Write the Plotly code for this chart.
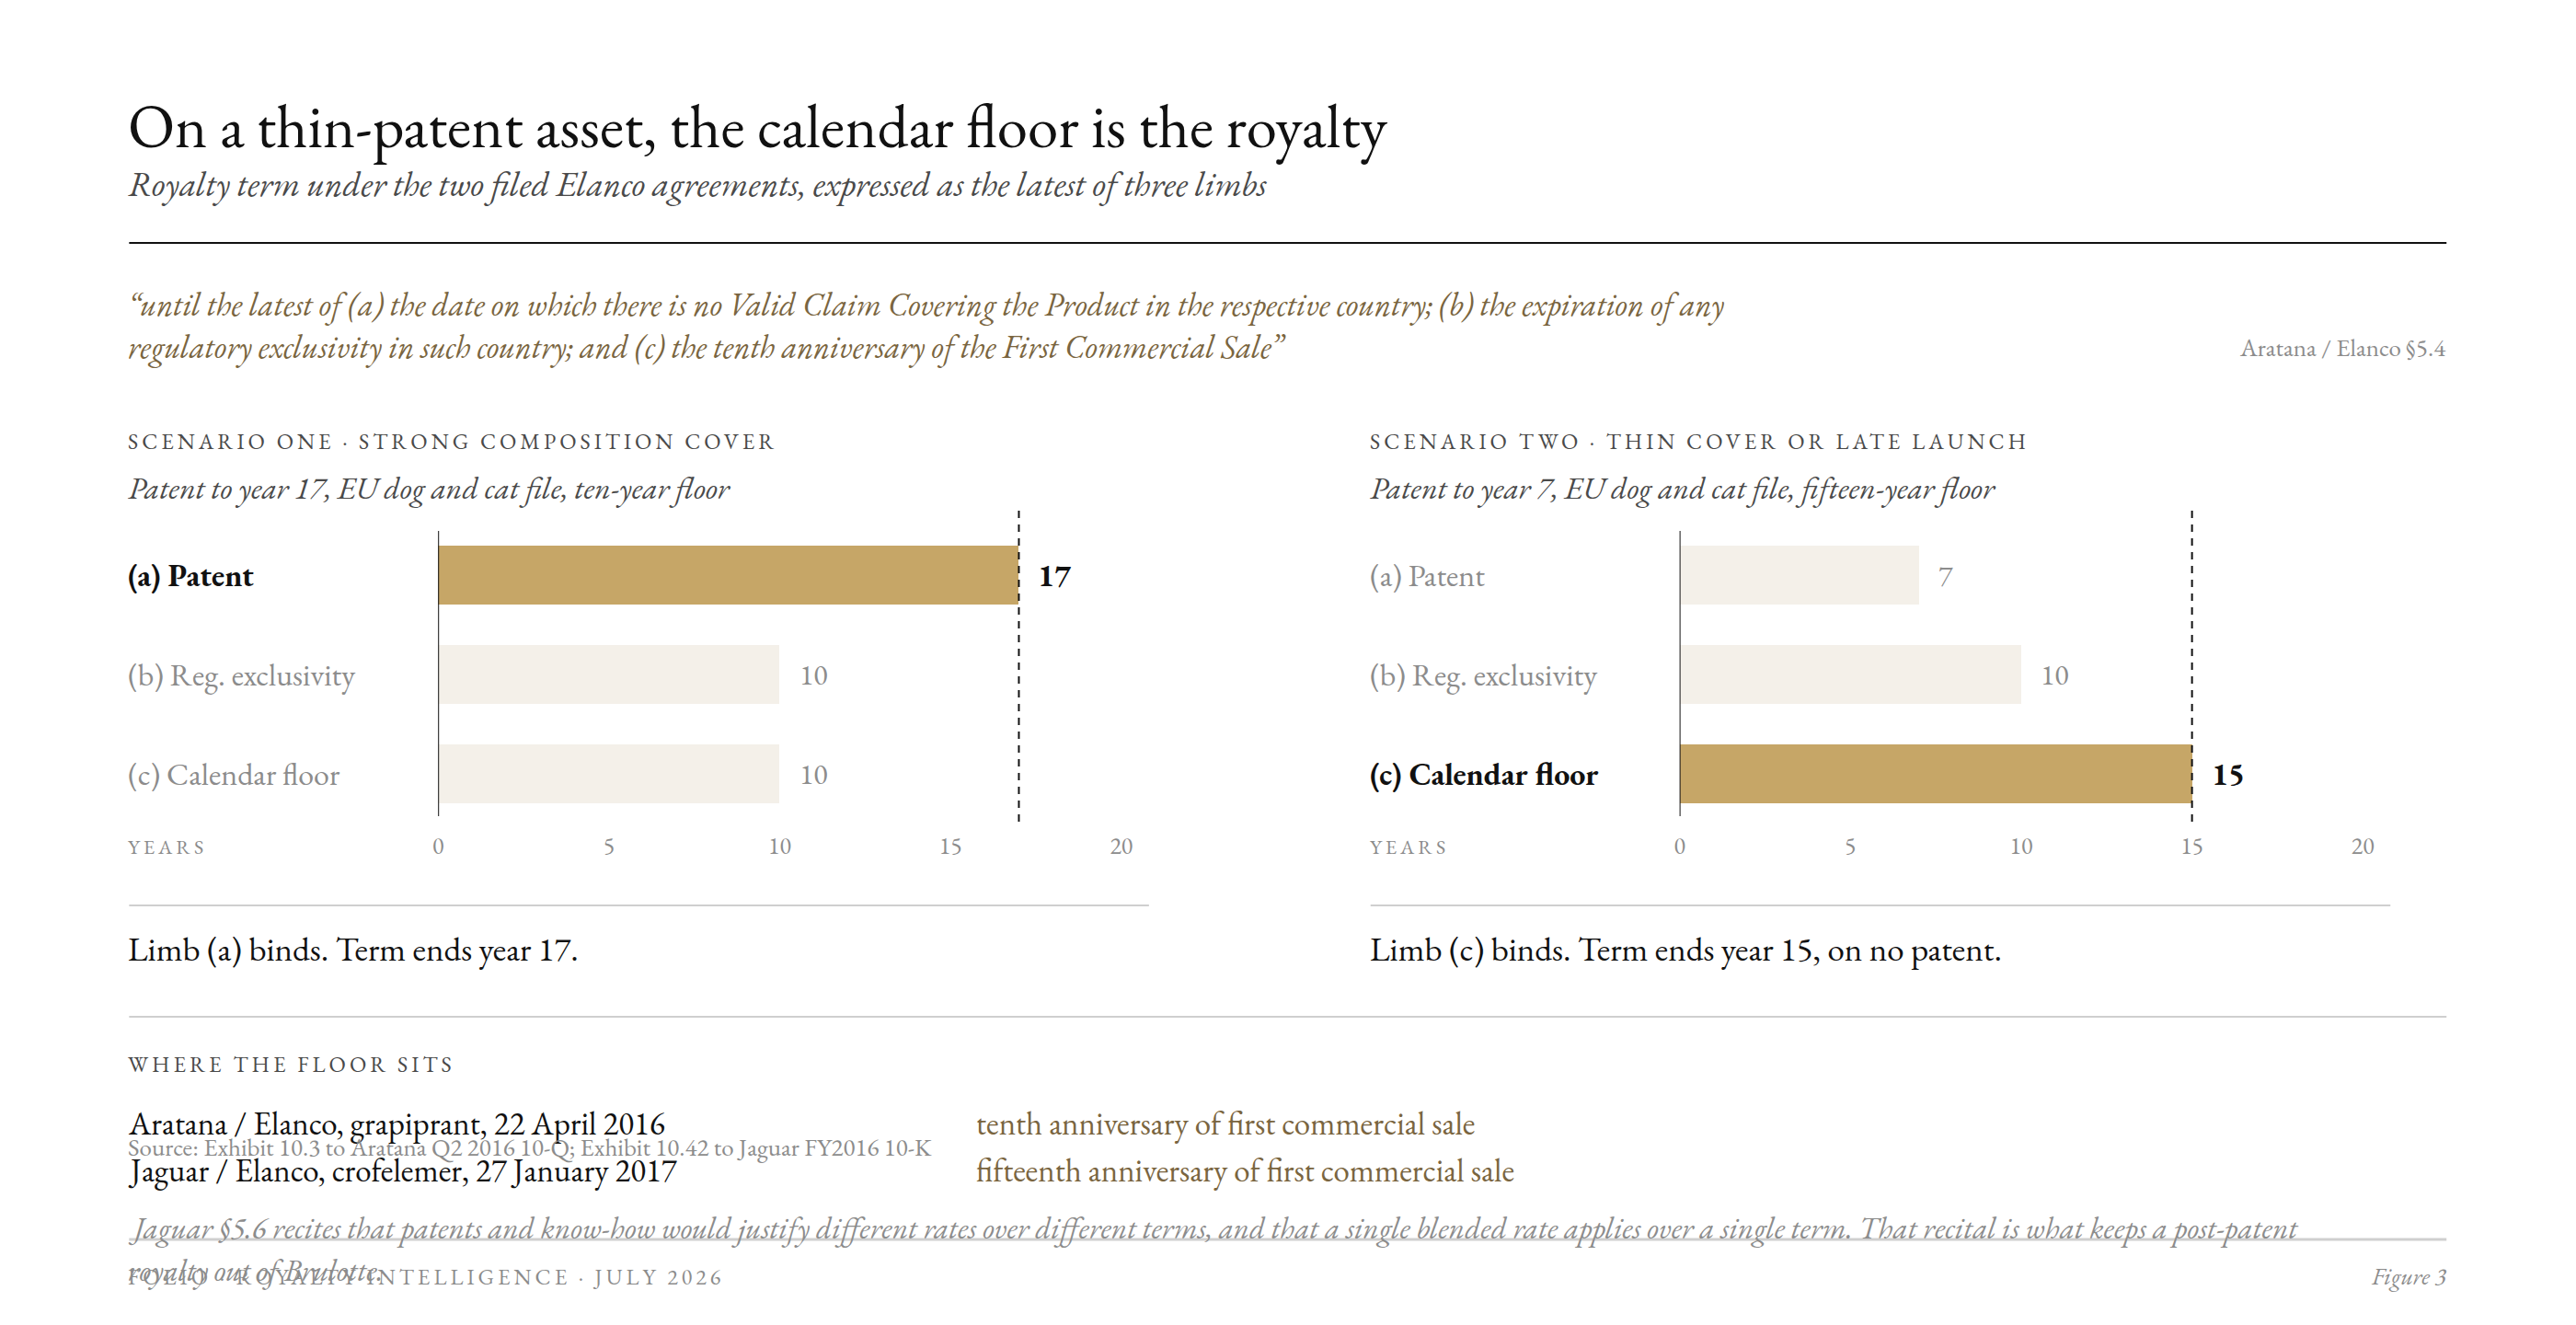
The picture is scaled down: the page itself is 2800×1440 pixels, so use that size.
import plotly.graph_objects as go

# ---------------- data ----------------
limbs = ["(a) Patent", "(b) Reg. exclusivity", "(c) Calendar floor"]
scenario1_years = [17, 10, 10]
scenario2_years = [7, 10, 15]
scenario1_term = 17
scenario2_term = 15
x_ticks = [0, 5, 10, 15, 20]

scenario1_header = "SCENARIO ONE · STRONG COMPOSITION COVER"
scenario1_sub = "Patent to year 17, EU dog and cat file, ten-year floor"
scenario1_note = "Limb (a) binds. Term ends year 17."
scenario2_header = "SCENARIO TWO · THIN COVER OR LATE LAUNCH"
scenario2_sub = "Patent to year 7, EU dog and cat file, fifteen-year floor"
scenario2_note = "Limb (c) binds. Term ends year 15, on no patent."

agreements = ["Aratana / Elanco, grapiprant, 22 April 2016",
              "Jaguar / Elanco, crofelemer, 27 January 2017"]
floors = ["tenth anniversary of first commercial sale",
          "fifteenth anniversary of first commercial sale"]

title = "On a thin-patent asset, the calendar floor is the royalty"
subtitle = "Royalty term under the two filed Elanco agreements, expressed as the latest of three limbs"
quote_lines = ["“until the latest of (a) the date on which there is no Valid Claim Covering the Product in the respective country; (b) the expiration of any",
               "regulatory exclusivity in such country; and (c) the tenth anniversary of the First Commercial Sale”"]
quote_src = "Aratana / Elanco §5.4"
source = "Source: Exhibit 10.3 to Aratana Q2 2016 10-Q; Exhibit 10.42 to Jaguar FY2016 10-K"
footnote_lines = ["Jaguar §5.6 recites that patents and know-how would justify different rates over different terms, and that a single blended rate applies over a single term. That recital is what keeps a post-patent",
                  "royalty out of Brulotte."]
footer_left = "FOLIO · ROYALTY INTELLIGENCE · JULY 2026"
footer_right = "Figure 3"

# ---------------- style ----------------
W, H = 2800, 1440
SERIF = "EB Garamond, Garamond, Liberation Serif, Times New Roman, serif"
GOLD = "#C6A667"
CREAM = "#F4F0E9"
BLACK = "#111111"
GREY = "#8C8C8C"
DGREY = "#4A4A4A"
BROWN = "#7A6540"
RULE = "#CFCFCF"


def tx(x):
    # horizontal placement in page pixels
    return (x - 4.6) / 0.994


def px(x):
    return tx(x) / W


def py(y):
    return 1 - y / H


def spaced(s, ls):
    return '<span style="letter-spacing:%spx">%s</span>' % (ls, s)


fig = go.Figure()
annotations = []
shapes = []
LEFT_PAD = -3
RIGHT_PAD = 2


def text(x, y, s, size, color=BLACK, anchor="left", italic=False, bold=False):
    xx = x + (LEFT_PAD if anchor == "left" else RIGHT_PAD)
    annotations.append(dict(
        xref="paper", yref="paper", x=px(xx), y=py(y), text=s, showarrow=False,
        xanchor=anchor, yanchor="middle", align=anchor,
        font=dict(family=SERIF, size=size, color=color,
                  style="italic" if italic else "normal",
                  weight=700 if bold else 400)))


def hline(x0, x1, y, color, width):
    shapes.append(dict(type="line", xref="paper", yref="paper",
                       x0=px(x0), x1=px(x1), y0=py(y), y1=py(y),
                       line=dict(color=color, width=width)))


# header
text(139, 136, title, 67)
text(139, 200, subtitle, 38, DGREY, italic=True)
hline(139, 2659, 264, BLACK, 2)
text(139, 331, quote_lines[0], 35, BROWN, italic=True)
text(139, 377, quote_lines[1], 35, BROWN, italic=True)
text(2659, 377, quote_src, 27, GREY, anchor="right")

# panels
Y_TOP, Y_BOT = 577, 887
y_range = [2.426, -0.444]
panels = [
    dict(x0=475, x1=1218, left=139, right=1248, vals=scenario1_years,
         term=scenario1_term, header=scenario1_header, sub=scenario1_sub,
         note=scenario1_note, xa="x", ya="y"),
    dict(x0=1825, x1=2568, left=1489, right=2598, vals=scenario2_years,
         term=scenario2_term, header=scenario2_header, sub=scenario2_sub,
         note=scenario2_note, xa="x2", ya="y2"),
]

for i, p in enumerate(panels):
    sfx = "" if i == 0 else "2"
    binding = max(range(len(p["vals"])), key=lambda k: p["vals"][k])
    colors = [GOLD if k == binding else CREAM for k in range(len(limbs))]
    fig.add_trace(go.Bar(
        x=p["vals"], y=list(range(len(limbs))), orientation="h",
        marker=dict(color=colors, line=dict(width=0)), width=0.585,
        xaxis=p["xa"], yaxis=p["ya"], hoverinfo="skip", showlegend=False))
    fig.update_layout(**{
        "xaxis" + sfx: dict(domain=[px(p["x0"]), px(p["x1"])], range=[0, 20],
                            tickvals=x_ticks, ticks="", showgrid=False,
                            zeroline=False, showline=False,
                            tickfont=dict(family=SERIF, size=26, color=GREY),
                            anchor=p["ya"], fixedrange=True),
        "yaxis" + sfx: dict(domain=[py(Y_BOT), py(Y_TOP)], range=y_range,
                            showticklabels=False, ticks="", showgrid=False,
                            zeroline=False, showline=False,
                            anchor=p["xa"], fixedrange=True),
    })
    # zero axis line
    shapes.append(dict(type="line", xref=p["xa"], yref=p["ya"] + " domain",
                       x0=0, x1=0, y0=0, y1=1,
                       line=dict(color=BLACK, width=2)))
    # dashed term line
    shapes.append(dict(type="line", xref=p["xa"], yref=p["ya"] + " domain",
                       x0=p["term"], x1=p["term"],
                       y0=-(893 - Y_BOT) / (Y_BOT - Y_TOP),
                       y1=1 + (Y_TOP - 548) / (Y_BOT - Y_TOP),
                       line=dict(color=BLACK, width=2, dash="8px,7px")))
    for k, (lab, v) in enumerate(zip(limbs, p["vals"])):
        hot = k == binding
        annotations.append(dict(
            xref="paper", yref=p["ya"], x=px(p["left"] + LEFT_PAD), y=k, text=lab,
            showarrow=False, xanchor="left", yanchor="middle",
            font=dict(family=SERIF, size=34, color=BLACK if hot else GREY,
                      weight=700 if hot else 400)))
        annotations.append(dict(
            xref=p["xa"], yref=p["ya"], x=v, y=k, text=str(v),
            showarrow=False, xanchor="left", yanchor="middle", xshift=19,
            font=dict(family=SERIF, size=34 if hot else 32,
                      color=BLACK if hot else GREY,
                      weight=700 if hot else 400)))
    text(p["left"], 480, spaced(p["header"], 4), 24, DGREY)
    text(p["left"], 530, p["sub"], 34, DGREY, italic=True)
    text(p["left"], 921, spaced("YEARS", 4), 22, GREY)
    hline(p["left"], p["right"], 984, RULE, 2)
    text(p["left"], 1031, p["note"], 37, BLACK)

# lower section
hline(139, 2659, 1105, RULE, 2)
text(139, 1156, spaced("WHERE THE FLOOR SITS", 4), 24, DGREY)
text(139, 1220, agreements[0], 35, BLACK)
text(1061, 1220, floors[0], 35, BROWN)
text(139, 1271, agreements[1], 35, BLACK)
text(1061, 1271, floors[1], 35, BROWN)
text(139, 1246, source, 27, GREY)

hline(139, 2659, 1347, RULE, 3)
text(139, 1334, footnote_lines[0], 33.3, GREY, italic=True)
text(139, 1380, footnote_lines[1], 33.3, GREY, italic=True)
text(139, 1387, spaced(footer_left, 4), 24, GREY)
text(2659, 1387, footer_right, 26, GREY, anchor="right", italic=True)

fig.update_layout(
    width=W, height=H, margin=dict(l=0, r=0, t=0, b=0),
    paper_bgcolor="white", plot_bgcolor="white",
    annotations=annotations, shapes=shapes, bargap=0,
)
fig.update_xaxes(ticklabelstandoff=14)

fig.write_html("out.html", config={"displayModeBar": False})
